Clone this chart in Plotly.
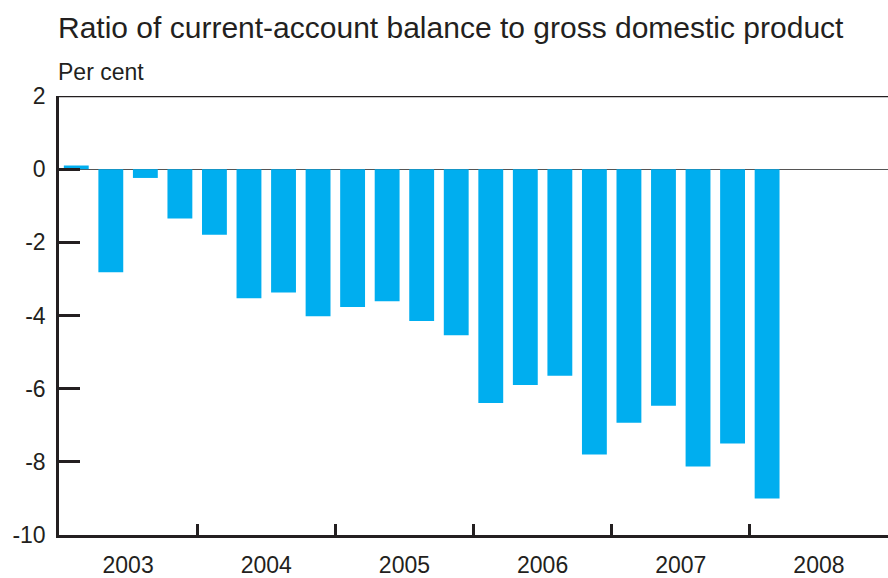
import plotly.graph_objects as go

quarters = [
    "2003 Q1", "2003 Q2", "2003 Q3", "2003 Q4",
    "2004 Q1", "2004 Q2", "2004 Q3", "2004 Q4",
    "2005 Q1", "2005 Q2", "2005 Q3", "2005 Q4",
    "2006 Q1", "2006 Q2", "2006 Q3", "2006 Q4",
    "2007 Q1", "2007 Q2", "2007 Q3", "2007 Q4",
    "2008 Q1",
]
ratio = [
    0.10, -2.82, -0.24, -1.35,
    -1.79, -3.53, -3.37, -4.02,
    -3.77, -3.61, -4.15, -4.54,
    -6.39, -5.90, -5.65, -7.80,
    -6.93, -6.47, -8.13, -7.50,
    -9.00,
]
years = ["2003", "2004", "2005", "2006", "2007", "2008"]
y_ticks = [2, 0, -2, -4, -6, -8, -10]

W, H = 888, 578
L, R, T, B = 59, 0, 96, 41
plot_h = H - T - B

def py(pix):
    return (H - B - pix) / plot_h

def px(pix):
    return (pix - L) / (W - L - R)

xpos = [i + 0.5 for i in range(len(quarters))]
year_centers = [4 * i + 2 for i in range(len(years))]
year_bounds = [4 * i for i in range(1, len(years))]

font_family = "Liberation Sans, Arial, Helvetica, sans-serif"
text_color = "#231f20"

fig = go.Figure()
fig.add_trace(go.Bar(
    x=xpos, y=ratio, width=0.72,
    marker=dict(color="#00aeef", line=dict(width=0)),
    hovertext=quarters, hoverinfo="text+y",
))

fig.update_layout(
    width=W, height=H,
    margin=dict(l=L, r=R, t=T, b=B, pad=0),
    paper_bgcolor="white", plot_bgcolor="white",
    showlegend=False,
    font=dict(family=font_family, color=text_color),
    xaxis=dict(
        range=[0, 4 * len(years)],
        tickvals=year_centers, ticktext=years,
        ticks="", showgrid=False, zeroline=False,
        showline=True, linecolor=text_color, linewidth=2.5,
        tickfont=dict(size=23, color=text_color),
        ticklabelstandoff=8,
        minor=dict(tickvals=year_bounds, ticks="inside", ticklen=11,
                   tickwidth=2.5, tickcolor=text_color, showgrid=False),
        fixedrange=True,
    ),
    yaxis=dict(
        range=[-10, 2],
        tickvals=y_ticks, ticktext=[str(v) for v in y_ticks],
        ticks="inside", ticklen=21, tickwidth=2.5, tickcolor=text_color,
        showgrid=False,
        zeroline=True, zerolinecolor="#555555", zerolinewidth=1.2,
        showline=True, linecolor=text_color, linewidth=2.5,
        tickfont=dict(size=23, color=text_color),
        ticklabelstandoff=6,
        fixedrange=True,
    ),
    shapes=[dict(type="line", xref="paper", yref="y", x0=0, x1=1, y0=2, y1=2,
                 line=dict(color=text_color, width=2.5))],
    annotations=[
        dict(text="Ratio of current-account balance to gross domestic product",
             xref="paper", yref="paper", x=px(56), y=py(27),
             xanchor="left", yanchor="middle", showarrow=False,
             font=dict(size=30, color=text_color)),
        dict(text="Per cent",
             xref="paper", yref="paper", x=px(56), y=py(72),
             xanchor="left", yanchor="middle", showarrow=False,
             font=dict(size=23, color=text_color)),
    ],
)

fig.write_html(
    "out.html",
    config={"displayModeBar": False},
    post_script="document.body.style.margin='0';document.body.style.overflow='hidden';",
)
